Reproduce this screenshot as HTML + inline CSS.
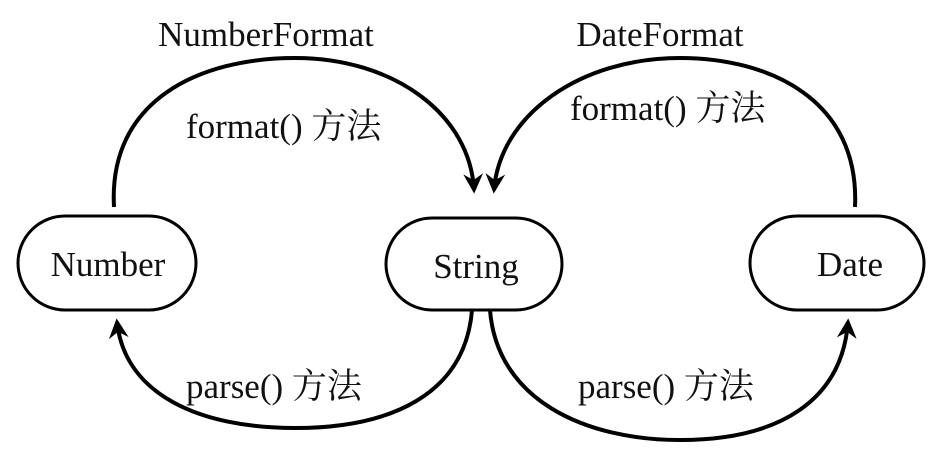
<!DOCTYPE html>
<html><head><meta charset="utf-8"><style>
html,body{margin:0;padding:0;background:#fff;}
svg{display:block;}
text{font-family:"Liberation Serif","Noto Serif CJK SC",serif;fill:#111;}
</style></head><body>
<svg width="951" height="454" viewBox="0 0 951 454">
<defs>
<marker id="ah" viewBox="0 0 10 10" refX="8" refY="5" markerWidth="9" markerHeight="9" orient="auto" markerUnits="userSpaceOnUse" style="overflow:visible">
<path d="M-10,-6 L12,5 L-10,16 L-3,5 Z" fill="#000"/>
</marker>
</defs>
<g fill="none" stroke="#000" stroke-width="4">
<path d="M114,207 C108,100 200,58 295,58 C395,58 470,115 474,190" marker-end="url(#ah)"/>
<path d="M855,207 C860,100 770,58 680,58 C580,58 500,115 494,190" marker-end="url(#ah)"/>
<path d="M472,310 C465,395 390,428 295,428 C200,428 125,395 117,322" marker-end="url(#ah)"/>
<path d="M490,310 C497,400 585,440 680,440 C780,440 842,400 848,322" marker-end="url(#ah)"/>
</g>
<g fill="#fff" stroke="#000" stroke-width="3">
<rect x="18" y="216" width="178" height="94" rx="47"/>
<rect x="386" y="218" width="176" height="92" rx="46"/>
<rect x="750" y="216" width="174" height="94" rx="47"/>
</g>
<g font-size="35">
<text x="108" y="276" text-anchor="middle">Number</text>
<text x="476" y="278" text-anchor="middle">String</text>
<text x="850" y="276" text-anchor="middle">Date</text>
<text x="266" y="46" text-anchor="middle">NumberFormat</text>
<text x="660" y="46" text-anchor="middle">DateFormat</text>
<text x="186" y="138">format() 方法</text>
<text x="570" y="120">format() 方法</text>
<text x="186" y="398">parse() 方法</text>
<text x="578" y="398">parse() 方法</text>
</g>
</svg>
</body></html>
